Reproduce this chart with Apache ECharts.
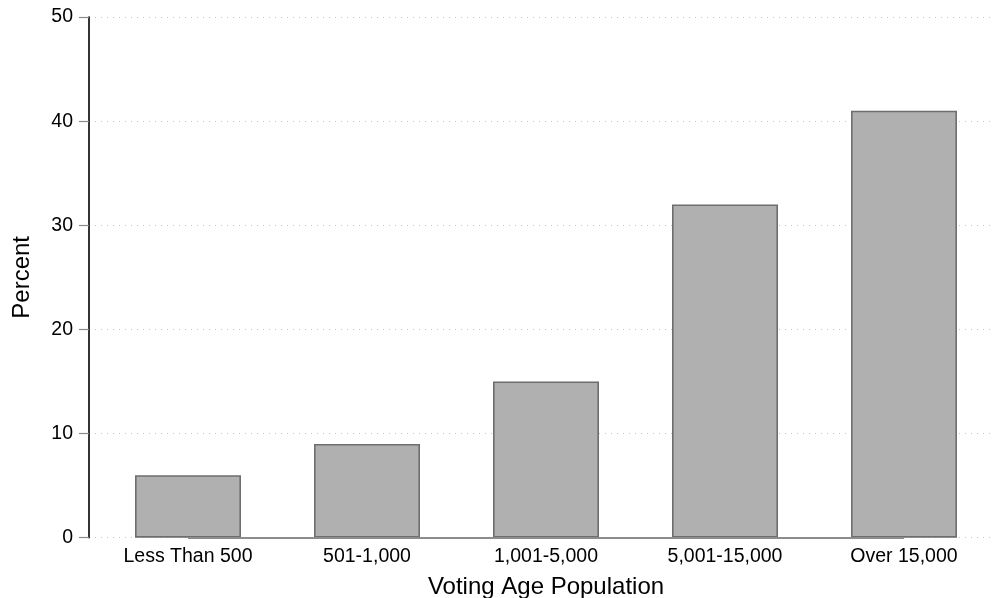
<!DOCTYPE html>
<html>
<head>
<meta charset="utf-8">
<script src="https://cdn.jsdelivr.net/npm/echarts@6/dist/echarts.min.js"></script>
<style>
html,body{margin:0;padding:0;background:#fff;}
#chart{width:993px;height:598px;}
</style>
</head>
<body>
<div id="chart"></div>
<script>
const categories = ["Less Than 500", "501-1,000", "1,001-5,000", "5,001-15,000", "Over 15,000"];
const percentValues = [6, 9, 15, 32, 41];
const yTicks = [0, 10, 20, 30, 40, 50];
const xTitle = "Voting Age Population";
const yTitle = "Percent";

const FONT = "'Liberation Sans', Arial, Helvetica, sans-serif";
const chart = echarts.init(document.getElementById('chart'), null, {renderer: 'canvas'});

chart.setOption({
  animation: false,
  backgroundColor: '#ffffff',
  grid: [
    {left: 98.5, right: -0.5, top: 17, bottom: 60.3, containLabel: false, outerBoundsMode: 'none'},
    {left: 89, right: 0, top: 17, bottom: 60.3, containLabel: false, outerBoundsMode: 'none'}
  ],
  xAxis: [
    {
      type: 'category', gridIndex: 0, data: categories,
      boundaryGap: true,
      axisLine: {show: false}, axisTick: {show: false}, splitLine: {show: false},
      axisLabel: {color: '#000', fontFamily: FONT, fontSize: 19.5, margin: 8.5},
      name: xTitle, nameLocation: 'middle', nameGap: 37.5,
      nameTextStyle: {color: '#000', fontFamily: FONT, fontSize: 24}
    },
    {
      type: 'value', gridIndex: 1, min: 0, max: 1, show: false
    }
  ],
  yAxis: [
    {type: 'value', gridIndex: 0, min: 0, max: 50, interval: 10, show: false},
    {
      type: 'value', gridIndex: 1, min: yTicks[0], max: yTicks[yTicks.length - 1], interval: 10,
      axisLine: {show: true, lineStyle: {color: '#000', width: 1.6}},
      axisTick: {show: true, length: 10, lineStyle: {color: '#8a8a8a', width: 1.2}},
      axisLabel: {color: '#000', fontFamily: FONT, fontSize: 19.5, margin: 16},
      splitLine: {show: true, lineStyle: {color: '#c4c4c4', width: 1, type: [1, 5]}},
      name: yTitle, nameLocation: 'middle', nameGap: 55,
      nameTextStyle: {color: '#000', fontFamily: FONT, fontSize: 24}
    }
  ],
  series: [
    {
      type: 'bar', xAxisIndex: 0, yAxisIndex: 0,
      data: percentValues,
      barWidth: 106,
      itemStyle: {color: '#b0b0b0', borderColor: '#6e6e6e', borderWidth: 1.6},
      silent: true,
      markLine: {
        silent: true, symbol: ['none', 'none'], label: {show: false},
        lineStyle: {color: '#8c8c8c', width: 2, type: 'solid'},
        data: [[{coord: [categories[0], 0]}, {coord: [categories[categories.length - 1], 0]}]]
      },
      z: 3
    }
  ]
});
</script>
</body>
</html>
